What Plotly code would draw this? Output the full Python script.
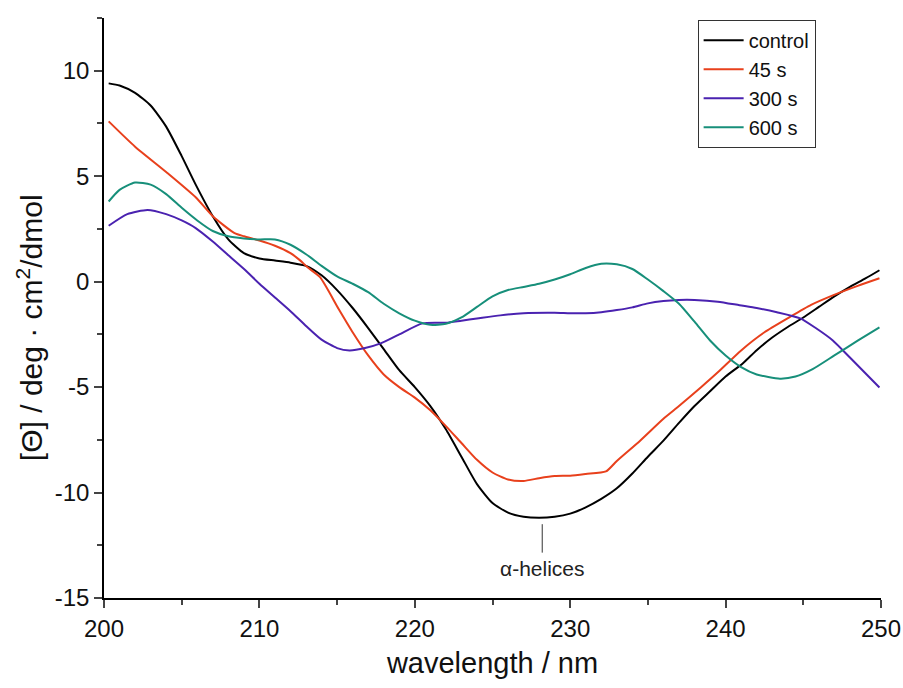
import plotly.graph_objects as go

# ---- data ----
wl_control = [200.3, 201, 202, 203, 204, 205, 205.9, 207, 208, 209, 210, 211, 212, 213, 214, 215, 216, 217, 218, 219, 220, 221, 222, 223, 224, 225, 226, 227, 228, 229, 230, 231, 232, 233, 234, 235, 236, 237, 238, 239, 240, 241.1, 242, 243, 244, 245, 246, 247, 248, 249, 249.9]
control = [9.4, 9.3, 8.95, 8.35, 7.35, 5.95, 4.6, 3.1, 2.0, 1.35, 1.1, 1.0, 0.9, 0.75, 0.3, -0.4, -1.25, -2.2, -3.2, -4.2, -5.0, -5.9, -7.0, -8.3, -9.6, -10.5, -10.95, -11.15, -11.2, -11.15, -11.0, -10.7, -10.3, -9.8, -9.1, -8.3, -7.54, -6.7, -5.9, -5.2, -4.5, -3.88, -3.25, -2.65, -2.15, -1.7, -1.2, -0.7, -0.25, 0.15, 0.54]

wl_45 = [200.3, 202, 204, 205.9, 207, 208.4, 209, 210, 211, 212, 212.6, 213.1, 213.9, 215.1, 216, 217, 218, 219, 220, 221, 222, 223, 224, 225, 226, 227, 228, 229, 230, 231, 232.3, 233, 234.5, 236, 237, 238.4, 239.5, 241, 242.5, 244.1, 245.5, 246.9, 248.5, 249.9]
s45 = [7.6, 6.4, 5.2, 4.0, 3.1, 2.3, 2.15, 1.95, 1.7, 1.35, 1.02, 0.68, 0.21, -1.3, -2.4, -3.5, -4.4, -5.0, -5.5, -6.1, -6.85, -7.65, -8.45, -9.05, -9.38, -9.45, -9.32, -9.22, -9.2, -9.12, -9.0, -8.5, -7.54, -6.5, -5.9, -5.02, -4.3, -3.26, -2.4, -1.69, -1.1, -0.65, -0.2, 0.16]

wl_300 = [200.3, 201.5, 202.8, 204, 205, 205.9, 207, 208, 209.1, 210, 211, 212, 213, 214, 215, 215.8, 216.8, 217.8, 219, 220.5, 222, 223, 224, 225.5, 227, 229, 230, 231, 232, 233, 234, 235, 236, 237, 238, 239.5, 240.9, 242, 243.3, 244.8, 245.8, 246.9, 248, 249.9]
s300 = [2.65, 3.2, 3.4, 3.2, 2.9, 2.54, 1.9, 1.25, 0.54, -0.1, -0.75, -1.4, -2.1, -2.75, -3.15, -3.26, -3.15, -2.93, -2.5, -1.98, -1.95, -1.85, -1.75, -1.6, -1.5, -1.48, -1.5, -1.5, -1.45, -1.35, -1.22, -1.03, -0.92, -0.87, -0.87, -0.95, -1.12, -1.25, -1.45, -1.74, -2.2, -2.79, -3.6, -5.02]

wl_600 = [200.3, 201, 202, 203, 204, 205, 206, 207, 208, 209, 210, 211, 212, 213, 214, 215, 216, 217, 218, 219, 220, 221, 222, 223, 224, 225, 226, 227, 228, 229, 230, 231, 232, 233, 234, 235, 236, 237, 238, 239, 240, 241, 242, 243.5, 244.5, 245.6, 247, 248.5, 249.9]
s600 = [3.8, 4.35, 4.7, 4.6, 4.15, 3.5, 2.9, 2.4, 2.15, 2.05, 2.0, 2.0, 1.75, 1.3, 0.75, 0.25, -0.1, -0.5, -1.05, -1.5, -1.85, -2.05, -2.0, -1.7, -1.2, -0.7, -0.4, -0.25, -0.1, 0.1, 0.35, 0.65, 0.85, 0.82, 0.6, 0.1, -0.45, -1.05, -1.9, -2.79, -3.5, -4.05, -4.4, -4.6, -4.5, -4.15, -3.5, -2.8, -2.17]

series_names = ["control", "45 s", "300 s", "600 s"]
series_x = [wl_control, wl_45, wl_300, wl_600]
series_y = [control, s45, s300, s600]
colors = ["#000000", "#e8401c", "#4a22b0", "#178f7a"]

x_ticks = [200, 210, 220, 230, 240, 250]
y_ticks = [-15, -10, -5, 0, 5, 10]
y_ticktext = ["-15", "-10", "-5", "0", "5", "10"]

annot_x = 228.2
annot_text = "α-helices"
x_title = "wavelength / nm"
y_title = "[Θ] / deg · cm<sup>2</sup>/dmol"

FONT = "Liberation Sans, Arial, sans-serif"

fig = go.Figure()
for name, xs, ys, c in zip(series_names, series_x, series_y, colors):
    fig.add_trace(go.Scatter(x=xs, y=ys, mode="lines", name=name,
                             line=dict(color=c, width=2, shape="spline", smoothing=0.6)))

fig.add_shape(type="line", xref="x", yref="y", x0=annot_x, x1=annot_x, y0=-11.5, y1=-12.85,
              line=dict(color="#333333", width=1))
fig.add_annotation(x=annot_x, y=-13.6, xref="x", yref="y", text=annot_text, showarrow=False,
                   font=dict(family=FONT, size=21, color="#222222"))
# y-axis title placed as a rotated annotation (sits a bit below the axis centre in the reference)
fig.add_annotation(x=-0.096, y=0.466, xref="paper", yref="paper", text=y_title, textangle=-90,
                   showarrow=False, xanchor="center", yanchor="middle",
                   font=dict(family=FONT, size=30, color="#111111"))

fig.update_layout(
    width=903, height=688,
    paper_bgcolor="white", plot_bgcolor="white",
    margin=dict(l=104, r=22, t=18, b=90, autoexpand=False),
    font=dict(family=FONT, color="#111111"),
    showlegend=True,
    legend=dict(x=0.764, y=0.997, xanchor="left", yanchor="top",
                bordercolor="#333333", borderwidth=1, bgcolor="white",
                font=dict(family=FONT, size=20), tracegroupgap=0, itemwidth=40),
)
fig.update_xaxes(range=[200, 250], tickvals=x_ticks, ticks="outside", ticklen=8, tickwidth=1.5,
                 showline=True, linecolor="black", linewidth=1.5, showgrid=False, zeroline=False,
                 automargin=False,
                 tickfont=dict(family=FONT, size=24),
                 minor=dict(dtick=5, ticks="outside", ticklen=5, tickwidth=1.5, showgrid=False),
                 title=dict(text=x_title, font=dict(family=FONT, size=29), standoff=12))
fig.update_yaxes(range=[-15, 12.5], tickvals=y_ticks, ticktext=y_ticktext, ticks="outside",
                 ticklen=8, tickwidth=1.5, automargin=False,
                 showline=True, linecolor="black", linewidth=1.5, showgrid=False, zeroline=False,
                 tickfont=dict(family=FONT, size=24),
                 minor=dict(dtick=2.5, ticks="outside", ticklen=5, tickwidth=1.5, showgrid=False))

fig.write_html("out.html", config={"displayModeBar": False},
               post_script="document.body.style.margin='0';document.body.style.overflow='hidden';")
